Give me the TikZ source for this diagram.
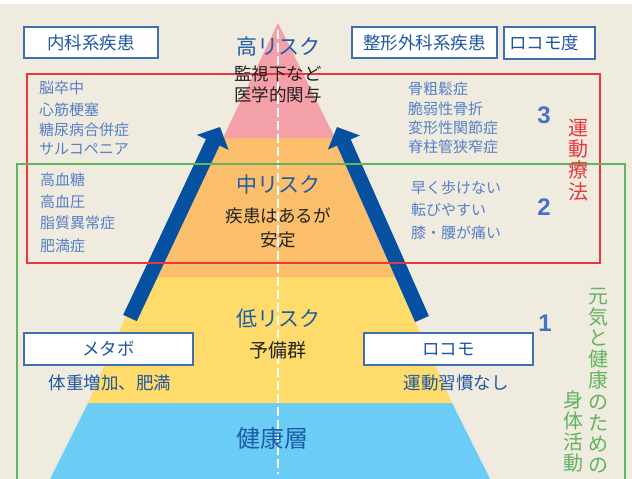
\documentclass[tikz,border=0pt]{standalone}
\usepackage{fontspec}
\setmainfont{Noto Sans CJK JP}
\newfontfamily\numfont{Liberation Sans}
\usetikzlibrary{arrows.meta,positioning}

\definecolor{bgbeige}{HTML}{EFEBDF}
\definecolor{pinkband}{HTML}{F4A0A8}
\definecolor{orangeband}{HTML}{FBBE6B}
\definecolor{yellowband}{HTML}{FFDB6B}
\definecolor{blueband}{HTML}{6BCDF5}
\definecolor{arrowblue}{HTML}{0550A0}
\definecolor{redframe}{HTML}{E8383D}
\definecolor{greenframe}{HTML}{62B462}
\definecolor{boxline}{HTML}{3E6FAE}
\definecolor{boxtext}{HTML}{1F57A0}
\definecolor{titleblue}{HTML}{1F5CA8}
\definecolor{listblue}{HTML}{5580C8}
\definecolor{numblue}{HTML}{4472C4}
\definecolor{desctext}{HTML}{222222}

\tikzset{
  catbox/.style={draw=boxline, line width=1.3pt, fill=white, inner sep=0pt,
    text=boxtext, font=\fontsize{17.5}{20}\selectfont},
  risktitle/.style={text=titleblue, inner sep=0pt, font=\fontsize{21}{24}\selectfont},
  riskdesc/.style={text=desctext, inner sep=0pt, font=\fontsize{17.5}{20}\selectfont},
  illness/.style={text=listblue, anchor=west, inner sep=0pt, font=\fontsize{15}{18}\selectfont},
  cause/.style={text=boxtext, inner sep=0pt, font=\fontsize{17.5}{20}\selectfont},
  levelno/.style={text=numblue, inner sep=0pt, font=\numfont\bfseries\fontsize{24}{26}\selectfont},
  vtext/.style={align=center, inner sep=0pt, font=\fontsize{20}{21.2}\selectfont},
  riskarrow/.style={draw=arrowblue, line width=15pt,
    -{Triangle[length=17pt 0 0, width=34pt 0 0]}},
}

\begin{document}
\begin{tikzpicture}[x=1pt, y=-1pt]
    \useasboundingbox (0,0) rectangle (632,479);
    \fill[bgbeige] (0,0) rectangle (632,479);
    \fill[white] (0,0) rectangle (632,4);

    \fill[blueband] (88,403) -- (452,403) -- (490,479) -- (50,479) -- cycle;
    \fill[yellowband] (143,277) -- (395,277) -- (452,403) -- (88,403) -- cycle;
    \fill[orangeband] (222,138) -- (334,138) -- (395,277) -- (158,277) -- cycle;
    \fill[pinkband] (278,23) -- (335,138) -- (223,138) -- cycle;

    \coordinate (axtop) at (278,30);
    \coordinate (axbot) at (278,474);
    \draw[white, line width=2.5pt, dash pattern=on 9pt off 4pt] (axtop) -- (axbot);

    \coordinate (ltail) at (130,318);
    \coordinate (ltip) at (220,127);
    \coordinate (rtail) at (422,319);
    \coordinate (rtip) at (337,127);
    \draw[riskarrow] (ltail) -- (ltip);
    \draw[riskarrow] (rtail) -- (rtip);

    \draw[redframe, line width=1.3pt] (27,74) rectangle (600,263);
    \draw[greenframe, line width=1.3pt] (17,485) -- (17,164) -- (625,164) -- (625,485);

    \node[catbox, minimum width=134pt, minimum height=31pt] (naika) at (91,42.5) {内科系疾患};
    \node[catbox, minimum width=145pt, minimum height=31pt] (seikei) at (424.5,42.5) {整形外科系疾患};
    \node[catbox, minimum height=32pt, text width=81pt, inner xsep=5pt, align=left] (locodo) at (549.5,43) {ロコモ度};
    \node[catbox, minimum width=169pt, minimum height=32pt] (metabo) at (108.5,349) {メタボ};
    \node[catbox, minimum width=169pt, minimum height=32pt] (locomo) at (448.5,349) {ロコモ};

    \node[cause] (taiju) at (110,383) {体重増加、肥満};
    \node[cause] (undoshukan) at (456,383) {運動習慣なし};

    \node[risktitle] (high) at (278,47) {高リスク};
    \node[riskdesc] (highd1) at (278,74) {監視下など};
    \node[riskdesc] (highd2) at (278,95) {医学的関与};
    \node[risktitle] (mid) at (278,185) {中リスク};
    \node[riskdesc] (midd1) at (278,216) {疾患はあるが};
    \node[riskdesc] (midd2) at (278,240) {安定};
    \node[risktitle] (low) at (278,319) {低リスク};
    \node[riskdesc, font=\fontsize{19}{22}\selectfont] (lowd) at (278,350) {予備群};
    \node[risktitle, font=\fontsize{24}{26}\selectfont] (healthy) at (272,438) {健康層};

    \node[illness] (nosotchu) at (39,88) {脳卒中};
    \node[illness] (shinkin) at (39,110) {心筋梗塞};
    \node[illness] (tonyo) at (39,130) {糖尿病合併症};
    \node[illness] (sarco) at (39,149) {サルコペニア};
    \node[illness] (kokketto) at (40,180) {高血糖};
    \node[illness] (kokketsuatsu) at (40,202) {高血圧};
    \node[illness] (shishitsu) at (40,223) {脂質異常症};
    \node[illness] (himan) at (40,246) {肥満症};

    \node[illness] (kotsuso) at (408,89) {骨粗鬆症};
    \node[illness] (zeijaku) at (408,109) {脆弱性骨折};
    \node[illness] (henkei) at (408,128) {変形性関節症};
    \node[illness] (sekichu) at (408,147) {脊柱管狭窄症};
    \node[illness] (hayaku) at (411,188) {早く歩けない};
    \node[illness] (korobi) at (411,210) {転びやすい};
    \node[illness] (hiza) at (411,233) {膝・腰が痛い};

    \node[levelno] (lv3) at (544,115) {3};
    \node[levelno] (lv2) at (544,207) {2};
    \node[levelno] (lv1) at (545,323) {1};

    \node[vtext, text=redframe] (ryoho) at (578,160) {運\\動\\療\\法};
    \node[vtext, text=greenframe] (genki) at (598,380.5) {元\\気\\と\\健\\康\\の\\た\\め\\の};
    \node[vtext, text=greenframe] (katsudo) at (573,431.5) {身\\体\\活\\動};
\end{tikzpicture}
\end{document}
